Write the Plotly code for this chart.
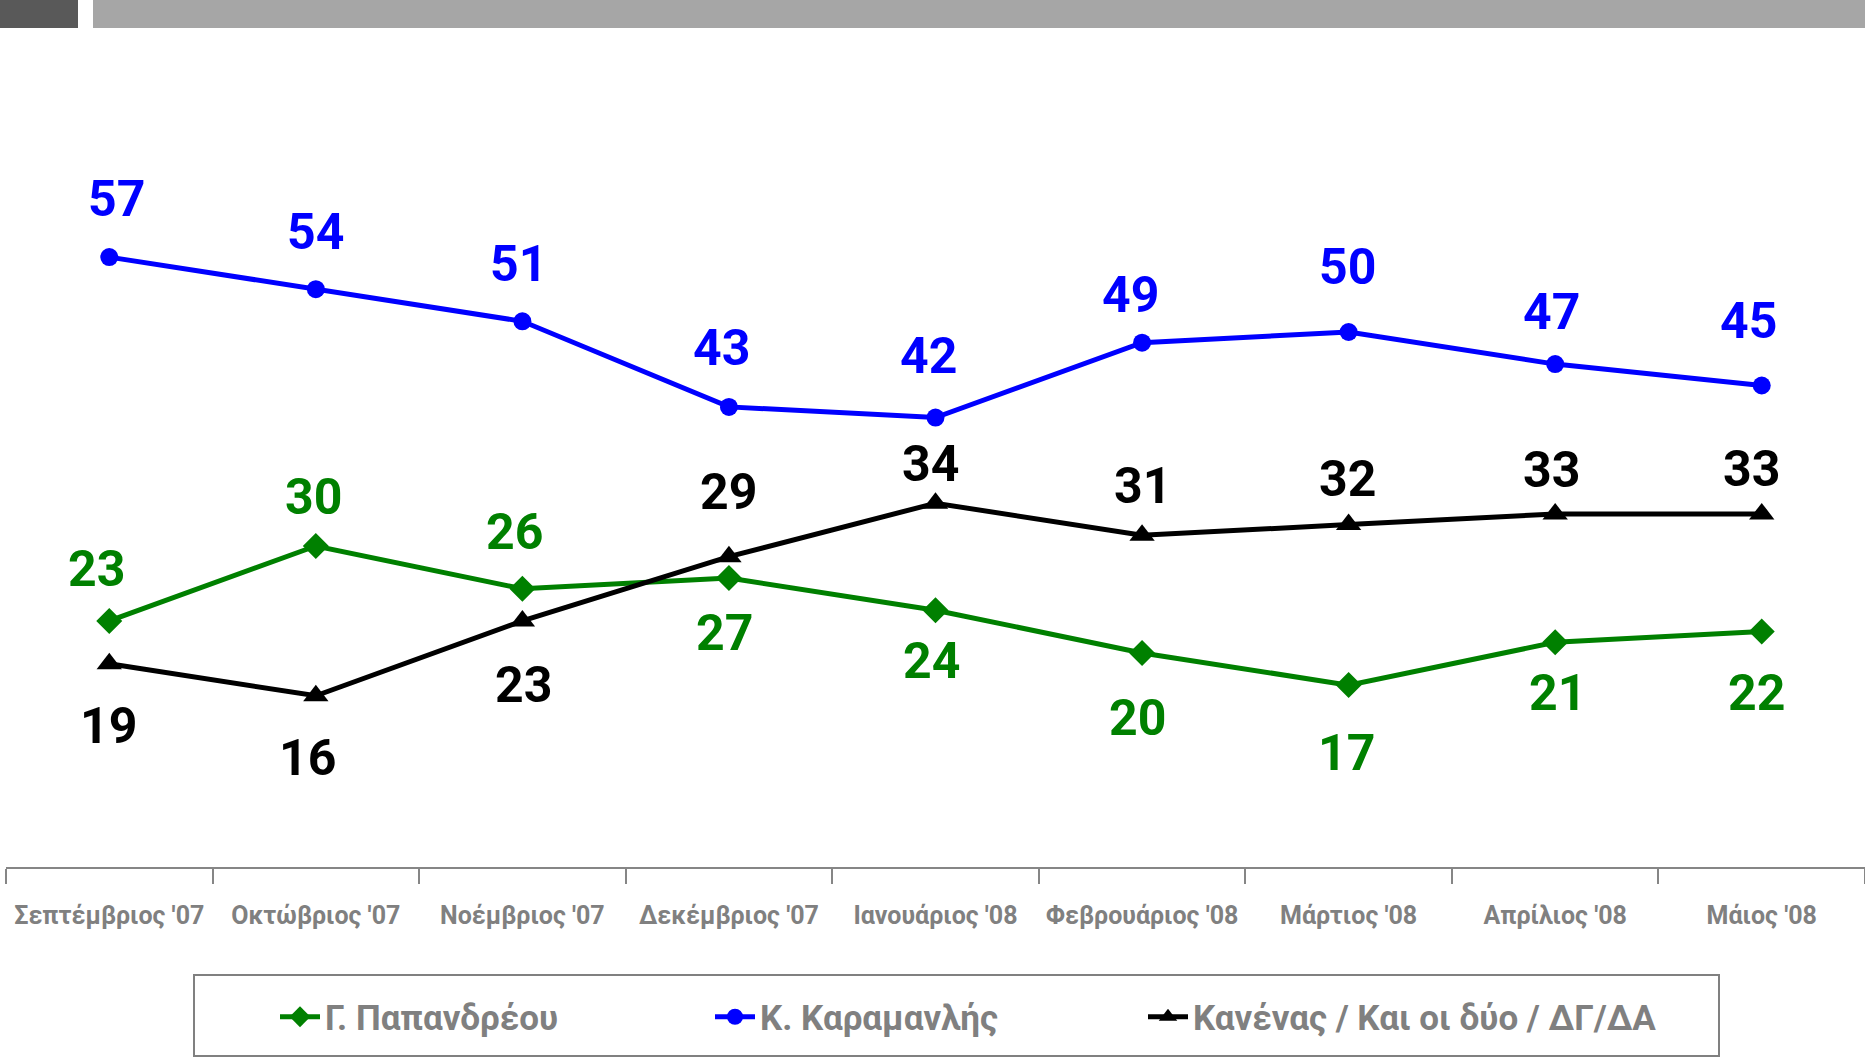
import plotly.graph_objects as go

months = ["Σεπτέμβριος '07", "Οκτώβριος '07", "Νοέμβριος '07", "Δεκέμβριος '07",
          "Ιανουάριος '08", "Φεβρουάριος '08", "Μάρτιος '08", "Απρίλιος '08", "Μάιος '08"]
papandreou = [23, 30, 26, 27, 24, 20, 17, 21, 22]
karamanlis = [57, 54, 51, 43, 42, 49, 50, 47, 45]
kanenas = [19, 16, 23, 29, 34, 31, 32, 33, 33]

names = ["Γ. Παπανδρέου", "Κ. Καραμανλής", "Κανένας / Και οι δύο / ΔΓ/ΔΑ"]

# label offsets (px) relative to the point: (dx, dy) with dy positive = upward
green_off = [(-13, 52), (-2, 49), (-8, 57), (-4, -55), (-4, -51), (-5, -65), (-2, -68), (2, -51), (-5, -61)]
blue_off = [(7, 58), (0, 57), (-4, 57), (-7, 59), (-7, 62), (-12, 48), (-1, 65), (-4, 52), (-13, 65)]
black_off = [(-1, -62), (-8, -62), (1, -64), (0, 65), (-5, 39), (0, 49), (-1, 46), (-4, 44), (-10, 45)]

GREEN = "#008000"
BLUE = "#0000FF"
BLACK = "#000000"
GRAY = "#808080"
TXT = "Roboto, Noto Sans, sans-serif"

L, T, R, B = 6, 118, 0, 193
W, H = 1865, 1060
PW, PH = W - L - R, H - T - B

def px_x(p):
    return (p - L) / PW

def px_y(p):
    return (H - B - p) / PH

fig = go.Figure()
series = [
    (papandreou, names[0], GREEN, "diamond", 20, green_off, "legend", 275),
    (karamanlis, names[1], BLUE, "circle", 18, blue_off, "legend2", 710),
    (kanenas, names[2], BLACK, "triangle-up", 22, black_off, "legend3", 1143),
]
for vals, nm, col, sym, ms, off, leg, lx in series:
    fig.add_trace(go.Scatter(
        x=months, y=vals, name=nm, mode="lines+markers",
        line=dict(color=col, width=5),
        marker=dict(symbol=sym, size=ms, color=col),
        cliponaxis=False, legend=leg,
    ))

annotations = []
for vals, nm, col, sym, ms, off, leg, lx in series:
    for m, v, (dx, dy) in zip(months, vals, off):
        annotations.append(dict(
            x=m, y=v, xref="x", yref="y", text=str(v), showarrow=False,
            xshift=dx, yshift=dy, xanchor="center", yanchor="middle",
            font=dict(family=TXT, size=50, color=col, weight="bold"),
        ))

shapes = [
    dict(type="rect", xref="paper", yref="paper", x0=px_x(0), x1=px_x(78), y0=px_y(28), y1=px_y(0),
         fillcolor="#595959", line=dict(width=0), layer="below"),
    dict(type="rect", xref="paper", yref="paper", x0=px_x(93), x1=px_x(1865), y0=px_y(28), y1=px_y(0),
         fillcolor="#A6A6A6", line=dict(width=0), layer="below"),
    dict(type="rect", xref="paper", yref="paper", x0=px_x(194), x1=px_x(1719), y0=px_y(1056), y1=px_y(975),
         fillcolor="rgba(0,0,0,0)", line=dict(color=GRAY, width=2), layer="below"),
]

legend_common = dict(orientation="h", xanchor="left", yanchor="middle", y=px_y(1017),
                     font=dict(family=TXT, size=35, color=GRAY, weight="bold"),
                     bgcolor="rgba(0,0,0,0)", borderwidth=0, itemwidth=40)

fig.update_layout(
    width=W, height=H,
    margin=dict(l=L, r=R, t=T, b=B, pad=0),
    plot_bgcolor="white", paper_bgcolor="white",
    showlegend=True,
    legend=dict(x=px_x(series[0][7]), **legend_common),
    legend2=dict(x=px_x(series[1][7]), **legend_common),
    legend3=dict(x=px_x(series[2][7]), **legend_common),
    annotations=annotations,
    shapes=shapes,
)
fig.update_xaxes(
    type="category", range=[-0.5, 8.5], tickson="boundaries",
    showline=True, linecolor="#868686", linewidth=2,
    ticks="outside", ticklen=15, tickwidth=1.5, tickcolor="#868686",
    showgrid=False, zeroline=False, ticklabelstandoff=25, tickangle=0,
    tickfont=dict(family=TXT, size=25, color=GRAY, weight="bold"),
)
fig.update_yaxes(range=[0, 70], visible=False, showgrid=False, zeroline=False)

fig.write_html("out.html", config={"displayModeBar": False},
               post_script="document.body.style.margin='0px';")
